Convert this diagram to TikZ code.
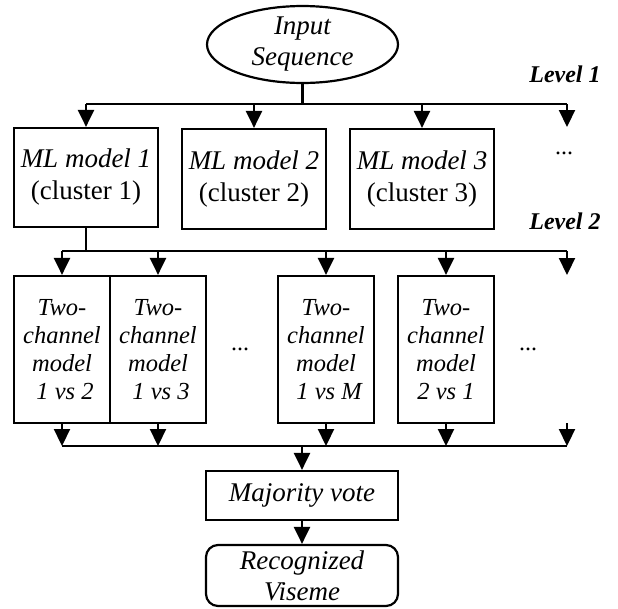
\documentclass[tikz,border=0pt]{standalone}
\usepackage{fontspec}
\setmainfont{Liberation Serif}
\usetikzlibrary{arrows.meta,shapes.geometric}
\begin{document}
\begin{tikzpicture}[x=1pt,y=-1pt,
  line width=2.2pt,
  arr/.style={-{Triangle[length=17pt,width=16pt]}},
  box/.style={draw,rectangle,inner sep=0pt,align=center,
    minimum width=144pt,minimum height=100pt,
    font=\fontsize{27}{32}\selectfont},
  pairbox/.style={draw,rectangle,inner sep=0pt,align=center,
    minimum width=96pt,minimum height=147pt,
    font=\fontsize{24.5}{28}\selectfont\itshape},
  wide/.style={draw,rectangle,inner sep=0pt,align=center,
    minimum width=192pt,font=\fontsize{27}{31}\selectfont\itshape},
  lvl/.style={font=\fontsize{24}{28}\selectfont\bfseries\itshape},
  dotted3/.style={font=\fontsize{24}{28}\selectfont,anchor=base}]
\useasboundingbox (0,0) rectangle (618,608);

% input
\node[draw,ellipse,minimum width=191pt,minimum height=69pt,inner sep=0pt,
  align=center,font=\fontsize{27}{31}\selectfont\itshape]
  (inp) at (302.5,44.5) {Input\\Sequence};

% level 1 classifiers
\node[box,minimum height=99pt] (m1) at (86,177.5) {\itshape ML model 1\\(cluster 1)};
\node[box] (m2) at (254,179) {\itshape ML model 2\\(cluster 2)};
\node[box] (m3) at (422,179) {\itshape ML model 3\\(cluster 3)};
\node[dotted3] (d1) at (564,154) {...};

% level 2 pairwise models
\node[pairbox] (p1) at (62,349.5) {Two-\\channel\\model\\\ 1 vs 2};
\node[pairbox] (p2) at (158,349.5) {Two-\\channel\\model\\\ 1 vs 3};
\node[pairbox] (p3) at (326,349.5) {Two-\\channel\\model\\\ 1 vs M};
\node[pairbox] (p4) at (446,349.5) {Two-\\channel\\model\\2 vs 1};
\node[dotted3] (d2) at (240,350) {...};
\node[dotted3] (d3) at (528,350) {...};

% level labels
\node[lvl] (l1) at (565,74) {Level 1};
\node[lvl] (l2) at (565,221) {Level 2};

% decision
\node[wide,minimum height=49pt] (mv) at (302,495.5) {Majority vote};
\node[wide,minimum height=61pt,rounded corners=12pt] (rv) at (302,575.5) {Recognized\\Viseme};

% buses
\coordinate (b1l) at (86,104);
\coordinate (b1r) at (567,104);
\coordinate (e1) at (567,127);
\coordinate (b2l) at (62,251);
\coordinate (b2r) at (567,251);
\coordinate (e2) at (567,275);
\coordinate (b3l) at (62,446);
\coordinate (b3r) at (567,446);
\coordinate (s3) at (567,423);

% level 1 fan-out
\draw (inp.south) -- (inp.south |- b1l);
\draw (b1l) -- (b1r);
\foreach \n in {m1,m2,m3} \draw[arr] (\n.north |- b1l) -- (\n.north);
\draw[arr] (b1r) -- (e1);

% level 2 fan-out
\draw (m1.south) -- (m1.south |- b2l);
\draw (b2l) -- (b2r);
\foreach \n in {p1,p2,p3,p4} \draw[arr] (\n.north |- b2l) -- (\n.north);
\draw[arr] (b2r) -- (e2);

% fan-in
\foreach \n in {p1,p2,p3,p4} \draw[arr] (\n.south) -- (\n.south |- b3l);
\draw[arr] (s3) -- (b3r);
\draw (b3l) -- (b3r);
\draw[arr] (mv.north |- b3l) -- (mv.north);
\draw[arr] (mv.south) -- (rv.north);
\end{tikzpicture}
\end{document}
